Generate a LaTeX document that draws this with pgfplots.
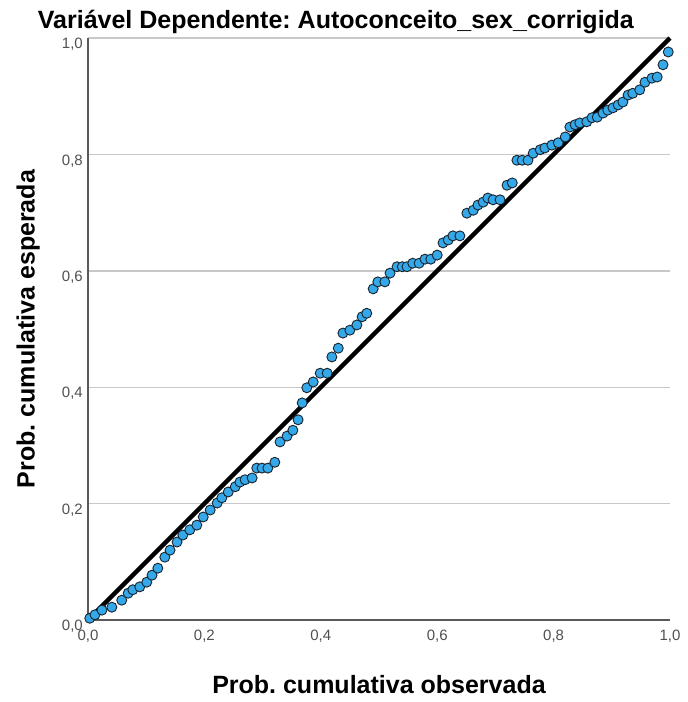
\documentclass[border=0pt]{standalone}
\usepackage{fontspec}
\setmainfont{Liberation Sans}
\usepackage{pgfplots}
\pgfplotsset{compat=1.18}
\frenchspacing
\definecolor{ptfill}{RGB}{52,168,232}
\definecolor{ptedge}{RGB}{25,35,45}
\definecolor{gridc}{RGB}{200,200,200}
\definecolor{axc}{RGB}{90,90,90}
\definecolor{tickc}{RGB}{80,80,80}
\begin{document}
\begin{tikzpicture}
\begin{axis}[
  scale only axis, width=582pt, height=582pt,
  xmin=0, xmax=1, ymin=0, ymax=1,
  axis x line=bottom, axis y line=left,
  axis line style={axc, line width=1.4pt, -},
  xtick={0,0.2,0.4,0.6,0.8,1}, ytick={0,0.2,0.4,0.6,0.8,1},
  xticklabels={0{,}0,0{,}2,0{,}4,0{,}6,0{,}8,1{,}0},
  yticklabels={0{,}0,0{,}2,0{,}4,0{,}6,0{,}8,1{,}0},
  major tick length=0pt,
  ymajorgrids, grid style={gridc, line width=1.4pt},
  tick label style={font=\fontsize{15}{17}\selectfont, text=tickc, inner sep=2pt},
  xticklabel style={anchor=north, yshift=-8pt},
  yticklabel style={anchor=north east, xshift=-3pt, yshift=2pt},
  clip=false,
]
\path (rel axis cs:-0.1512,-0.1409) rectangle (rel axis cs:1.0309,1.0653);
\addplot[black, line width=4.5pt] coordinates {(0,0) (1,1)};
\addplot[only marks, mark=*, mark size=5pt, mark options={fill=ptfill, draw=ptedge, line width=0.9pt}] coordinates {
(0.003,0.003) (0.012,0.009) (0.024,0.017) (0.041,0.022) (0.058,0.034)
(0.069,0.046) (0.077,0.052) (0.089,0.057) (0.101,0.065) (0.110,0.077)
(0.120,0.089) (0.132,0.108) (0.141,0.120) (0.153,0.134) (0.163,0.146)
(0.175,0.155) (0.187,0.163) (0.198,0.177) (0.210,0.189) (0.222,0.201)
(0.230,0.210) (0.241,0.220) (0.253,0.229) (0.261,0.237) (0.270,0.241)
(0.282,0.244) (0.290,0.261) (0.299,0.261) (0.309,0.261) (0.321,0.271)
(0.330,0.306) (0.342,0.316) (0.352,0.326) (0.361,0.344) (0.368,0.373)
(0.376,0.399) (0.387,0.409) (0.399,0.424) (0.411,0.424) (0.419,0.452)
(0.430,0.467) (0.438,0.493) (0.450,0.498) (0.462,0.507) (0.471,0.521)
(0.479,0.527) (0.490,0.569) (0.498,0.581) (0.510,0.581) (0.519,0.596)
(0.531,0.607) (0.540,0.607) (0.548,0.607) (0.558,0.613) (0.569,0.613)
(0.579,0.620) (0.589,0.620) (0.600,0.627) (0.610,0.648) (0.619,0.653)
(0.627,0.660) (0.639,0.660) (0.651,0.699) (0.662,0.704) (0.670,0.713)
(0.679,0.718) (0.687,0.725) (0.696,0.722) (0.708,0.722) (0.720,0.747)
(0.729,0.751) (0.737,0.790) (0.746,0.790) (0.756,0.790) (0.765,0.802)
(0.777,0.808) (0.785,0.811) (0.797,0.816) (0.808,0.820) (0.820,0.830)
(0.828,0.847) (0.837,0.851) (0.845,0.854) (0.857,0.856) (0.866,0.863)
(0.875,0.864) (0.885,0.871) (0.893,0.876) (0.902,0.880) (0.911,0.885)
(0.919,0.890) (0.928,0.902) (0.936,0.905) (0.948,0.911) (0.957,0.924)
(0.969,0.931) (0.978,0.933) (0.988,0.954) (0.997,0.976)
};
\node[anchor=base, font=\fontsize{25}{28}\selectfont\bfseries] at (rel axis cs:0.426,1.017) {Variável Dependente: Autoconceito\_sex\_corrigida};
\node[anchor=base, font=\fontsize{25}{28}\selectfont\bfseries] at (rel axis cs:0.5,-0.127) {Prob. cumulativa observada};
\node[anchor=center, rotate=90, font=\fontsize{25}{28}\selectfont\bfseries] at (rel axis cs:-0.103,0.5) {Prob. cumulativa esperada};
\end{axis}
\end{tikzpicture}
\end{document}
